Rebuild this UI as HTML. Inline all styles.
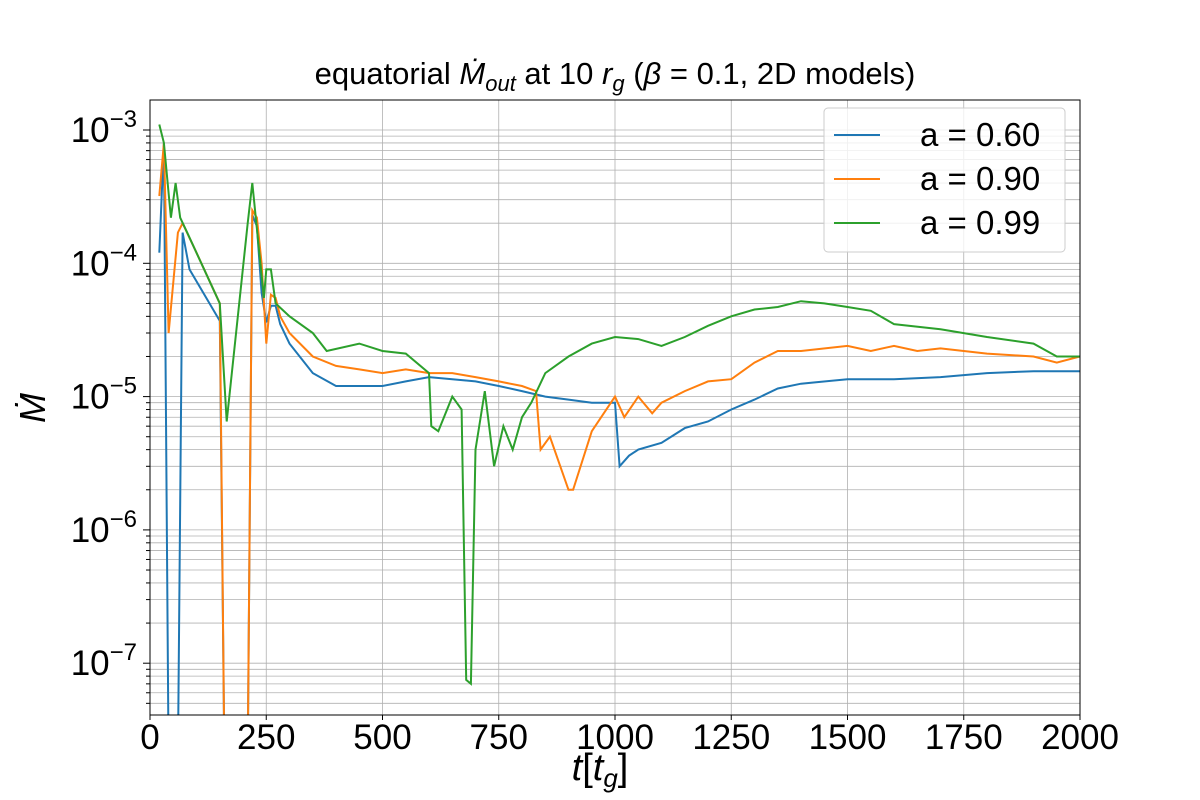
<!DOCTYPE html>
<html><head><meta charset="utf-8">
<style>html,body{margin:0;background:#fff;overflow:hidden;width:1200px;height:800px;font-family:"Liberation Sans","DejaVu Sans",sans-serif}svg{display:block}</style>
</head><body>
<svg id="chart" width="1200" height="800" xmlns="http://www.w3.org/2000/svg" overflow="hidden">
<defs><clipPath id="clip"><rect x="150" y="100" width="930" height="615"/></clipPath></defs>
<rect width="1200" height="800" fill="#fff"/>
<g id="grid"></g>
<g id="series" clip-path="url(#clip)"></g>
<rect x="150" y="100" width="930" height="615" fill="none" stroke="#000" stroke-width="1"/>
<g id="ticks"></g>
<text x="615" y="84" text-anchor="middle" font-size="31">equatorial <tspan font-style="italic">Ṁ</tspan><tspan font-style="italic" font-size="22" dy="7">out</tspan><tspan dy="-7"> at 10 </tspan><tspan font-style="italic">r</tspan><tspan font-style="italic" font-size="22" dy="7">g</tspan><tspan dy="-7"> (</tspan><tspan font-style="italic">β</tspan> = 0.1, 2D models)</text>
<text x="600" y="780" text-anchor="middle" font-size="38"><tspan font-style="italic">t</tspan>[<tspan font-style="italic">t</tspan><tspan font-style="italic" font-size="26" dy="7">g</tspan><tspan dy="-7">]</tspan></text>
<text x="45" y="408" text-anchor="middle" font-size="36" font-style="italic" transform="rotate(-90 45 408)">Ṁ</text>
<g id="legend">
<rect x="824" y="108" width="241" height="144" rx="4" fill="#fff" fill-opacity="0.8" stroke="#ccc"/>
</g>
</svg>
<script>
const tA=[20,30,40,60,70,85,150,160,210,220,230,240,250,260,270,280,300,350,400,450,500,550,600,650,700,750,800,850,900,950,1000,1010,1030,1050,1100,1150,1200,1250,1300,1350,1400,1500,1600,1700,1800,1900,2000];
const vA=[1.2e-4,8e-4,1e-9,1e-9,1.7e-4,9e-5,3.7e-5,1e-9,1e-9,2.3e-4,1.9e-4,6e-5,3.6e-5,4.8e-5,4.8e-5,3.5e-5,2.5e-5,1.5e-5,1.2e-5,1.2e-5,1.2e-5,1.3e-5,1.4e-5,1.35e-5,1.3e-5,1.2e-5,1.1e-5,1e-5,9.5e-6,9e-6,9e-6,3e-6,3.6e-6,4e-6,4.5e-6,5.8e-6,6.5e-6,8e-6,9.5e-6,1.15e-5,1.25e-5,1.35e-5,1.35e-5,1.4e-5,1.5e-5,1.55e-5,1.55e-5];
const tB=[20,30,40,60,70,100,150,160,210,220,230,240,250,260,270,280,300,350,400,450,500,550,600,650,700,750,800,830,840,860,900,910,950,1000,1020,1050,1080,1100,1150,1200,1250,1300,1350,1400,1500,1550,1600,1650,1700,1800,1900,1950,2000];
const vB=[3.2e-4,8e-4,3e-5,1.7e-4,2e-4,1.2e-4,5e-5,1e-9,1e-9,2.5e-4,2.2e-4,1e-4,2.5e-5,5.8e-5,5.5e-5,4e-5,3e-5,2e-5,1.7e-5,1.6e-5,1.5e-5,1.6e-5,1.5e-5,1.5e-5,1.4e-5,1.3e-5,1.2e-5,1.1e-5,4e-6,5e-6,2e-6,2e-6,5.5e-6,1e-5,7e-6,1e-5,7.5e-6,9e-6,1.1e-5,1.3e-5,1.35e-5,1.8e-5,2.2e-5,2.2e-5,2.4e-5,2.2e-5,2.4e-5,2.2e-5,2.3e-5,2.1e-5,2e-5,1.8e-5,2e-5];
const tC=[20,30,45,55,65,80,150,165,210,220,235,245,250,260,270,300,350,380,450,500,550,600,605,620,650,670,680,690,700,720,740,760,780,800,820,850,900,950,1000,1050,1100,1150,1200,1250,1300,1350,1400,1450,1500,1550,1600,1700,1800,1900,1950,2000];
const vC=[1.1e-3,8e-4,2.2e-4,4e-4,2.2e-4,1.7e-4,5e-5,6.5e-6,2e-4,4e-4,1.2e-4,5.5e-5,9e-5,9e-5,5e-5,4e-5,3e-5,2.2e-5,2.5e-5,2.2e-5,2.1e-5,1.5e-5,6e-6,5.5e-6,1e-5,8e-6,7.5e-8,7e-8,4e-6,1.1e-5,3e-6,6e-6,4e-6,7e-6,9e-6,1.5e-5,2e-5,2.5e-5,2.8e-5,2.7e-5,2.4e-5,2.8e-5,3.4e-5,4e-5,4.5e-5,4.7e-5,5.2e-5,5e-5,4.7e-5,4.4e-5,3.5e-5,3.2e-5,2.8e-5,2.5e-5,2e-5,2e-5];
const seriesNames=["a = 0.60","a = 0.90","a = 0.99"];
const xTicks=[0,250,500,750,1000,1250,1500,1750,2000];
const yDecades=[-7,-6,-5,-4,-3];
const NS="http://www.w3.org/2000/svg";
const X=t=>150+t*930/2000;
const Y=v=>130-(Math.log10(v)+3)*133.3;
function mk(tag,attrs,parent){const e=document.createElementNS(NS,tag);for(const k in attrs)e.setAttribute(k,attrs[k]);parent.appendChild(e);return e;}
const grid=document.getElementById('grid'),ticks=document.getElementById('ticks'),ser=document.getElementById('series'),leg=document.getElementById('legend');
xTicks.forEach(t=>{
  const l=mk('line',{x1:X(t),x2:X(t),y1:100,y2:715,stroke:'#b0b0b0','stroke-width':0.8},grid);
  
  
  mk('line',{x1:X(t),x2:X(t),y1:715,y2:720,stroke:'#000'},ticks);
  const tx=mk('text',{x:X(t),y:749,'text-anchor':'middle','font-size':35},ticks);
  tx.textContent=t;
  
  
});
for(let d=-8;d<=-3;d++){for(let m=1;m<10;m++){const y=Y(m*Math.pow(10,d));if(y<100||y>715)continue;
  const l=mk('line',{x1:150,x2:1080,y1:y,y2:y,stroke:'#b0b0b0','stroke-width':0.8},grid);
  
  
  mk('line',{x1:m==1?143:146,x2:150,y1:y,y2:y,stroke:'#000'},ticks);
}}
yDecades.forEach(d=>{const y=Y(Math.pow(10,d));
  const tx=mk('text',{x:137,y:y+12,'text-anchor':'end','font-size':35},ticks);
  tx.innerHTML='10<tspan dy="-15" font-size="24">−'+(-d)+'</tspan>';
  
  
});
const cols=['#1f77b4','#ff7f0e','#2ca02c'];
[[tA,vA],[tB,vB],[tC,vC]].forEach((s,i)=>{
  const d=s[0].map((t,j)=>(j?'L':'M')+X(t).toFixed(1)+','+Math.min(Y(s[1][j]),760).toFixed(1)).join('');
  const p=mk('path',{d:d,fill:'none',stroke:cols[i],'stroke-width':2},ser);
  
  
  const ly=135+i*44;
  mk('line',{x1:834,x2:880,y1:ly,y2:ly,stroke:cols[i],'stroke-width':2},leg);
  const tx=mk('text',{x:920,y:ly+11,'font-size':33},leg);
  tx.textContent=seriesNames[i];
  
  
});
</script>
</body></html>
